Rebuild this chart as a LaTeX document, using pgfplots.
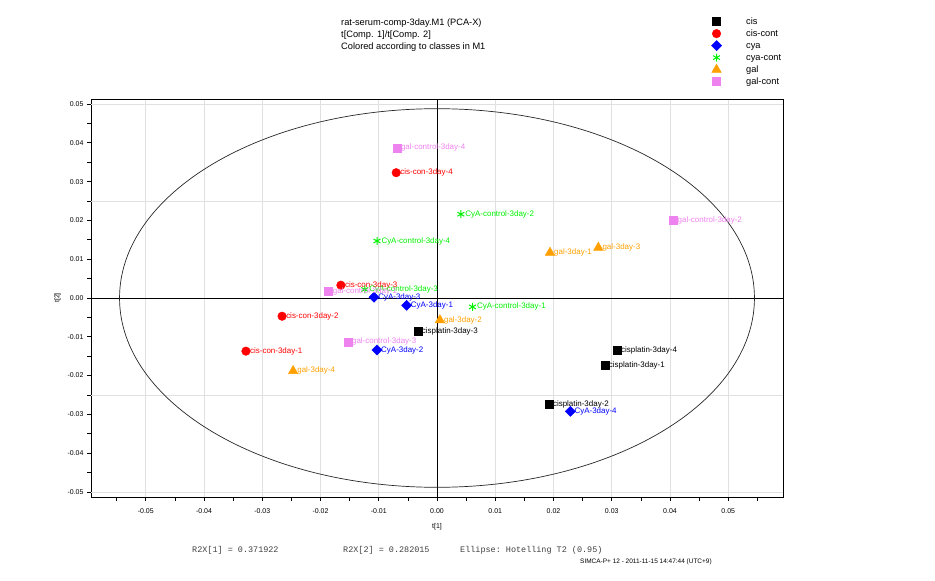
\documentclass[border=0pt]{standalone}
\usepackage{pgfplots}
\pgfplotsset{compat=1.18}
\usepackage{pgfplotstable}
\usepackage{fontspec}
\setmainfont{Liberation Sans}
\setmonofont{Liberation Mono}
\definecolor{cisc}{RGB}{0,0,0}
\definecolor{ciscont}{RGB}{255,0,0}
\definecolor{cyac}{RGB}{0,0,255}
\definecolor{cyacont}{RGB}{0,240,0}
\definecolor{galc}{RGB}{255,160,0}
\definecolor{galcont}{RGB}{238,130,238}
\definecolor{gridc}{RGB}{224,224,224}

\pgfplotstableread{
x y label
0.0309 -0.0134 cisplatin-3day-4
0.0288 -0.0173 cisplatin-3day-1
0.0192 -0.0274 cisplatin-3day-2
-0.0033 -0.0085 cisplatin-3day-3
}\cis
\pgfplotstableread{
x y label
-0.0070 0.0323 cis-con-3day-4
-0.0165 0.0033 cis-con-3day-3
-0.0266 -0.0047 cis-con-3day-2
-0.0328 -0.0137 cis-con-3day-1
}\ciscon
\pgfplotstableread{
x y label
-0.0108 0.0002 CyA-3day-3
-0.0052 -0.0019 CyA-3day-1
-0.0103 -0.0134 CyA-3day-2
0.0229 -0.0292 CyA-3day-4
}\cya
\pgfplotstableread{
x y label
0.0041 0.0216 CyA-control-3day-2
0.0061 -0.0023 CyA-control-3day-1
-0.0103 0.0147 CyA-control-3day-4
-0.0124 0.0022 CyA-control-3day-3
}\cyacon
\pgfplotstableread{
x y label
0.0194 0.0117 gal-3day-1
0.0277 0.0130 gal-3day-3
0.0005 -0.0057 gal-3day-2
-0.0247 -0.0188 gal-3day-4
}\gal
\pgfplotstableread{
x y label
-0.0069 0.0387 gal-control-3day-4
0.0406 0.0201 gal-control-3day-2
-0.0153 -0.0113 gal-control-3day-3
-0.0186 0.0018 gal-control-3day-1
}\galcon

\begin{document}
\begin{tikzpicture}
\useasboundingbox (0bp,0bp) rectangle (935bp,-581bp);
\begin{axis}[
  at={(91bp,-497bp)}, anchor=south west,
  width=692bp, height=398bp, scale only axis,
  xmin=-0.0594, xmax=0.0594, ymin=-0.0513, ymax=0.0513,
  axis line style={black, line width=0.8bp},
  scaled ticks=false,
  xtick={-0.05,-0.04,-0.03,-0.02,-0.01,0,0.01,0.02,0.03,0.04,0.05},
  minor xtick={-0.055,-0.045,-0.035,-0.025,-0.015,-0.005,0.005,0.015,0.025,0.035,0.045,0.055},
  ytick={-0.05,-0.04,-0.03,-0.02,-0.01,0,0.01,0.02,0.03,0.04,0.05},
  minor ytick={-0.045,-0.035,-0.025,-0.015,-0.005,0.005,0.015,0.025,0.035,0.045},
  tick align=outside, tick pos=left,
  major tick length=4bp, minor tick length=4bp,
  every tick/.style={black, line width=0.7bp},
  xmajorgrids=true,
  major grid style={gridc, line width=0.7bp},
  extra y ticks={-0.05,-0.025,0.025,0.05},
  extra y tick labels={},
  extra y tick style={grid=major, major tick length=0pt},
  tick label style={font=\fontsize{7}{8}\selectfont},
  xticklabel style={yshift=-4.5bp, /pgf/number format/.cd, fixed, fixed zerofill, precision=2, assume math mode=true},
  yticklabel style={/pgf/number format/.cd, fixed, fixed zerofill, precision=2, assume math mode=true},
  xlabel={t[1]}, ylabel={t[2]},
  label style={font=\fontsize{7}{8}\selectfont},
  xlabel style={yshift=-3bp},
  ylabel style={yshift=-4bp},
  point meta=explicit symbolic,
  nodes near coords,
  every node near coord/.append style={anchor=west, inner sep=0pt, xshift=4bp, font=\fontsize{8}{9}\selectfont},
  legend style={at={(axis description cs:0.892,1.215)}, anchor=north west, draw=none, fill=none,
    font=\fontsize{9.3}{11}\selectfont, legend cell align=left,
    /tikz/every odd column/.append style={column sep=23bp},
    row sep=0pt, nodes={inner sep=1.5bp, text height=7bp, text depth=2bp}},
]
\draw[black, line width=0.8bp] (axis cs:0,-0.0513) -- (axis cs:0,0.0513);
\draw[black, line width=0.8bp] (axis cs:-0.0594,0) -- (axis cs:0.0594,0);
\draw[black!85, line width=0.7bp] (axis cs:0,0) ellipse [x radius=0.0545, y radius=0.0488];

\addplot[only marks, color=cisc, mark=square*, mark size=4bp, mark options={fill=cisc, draw=cisc}, nodes near coords style={text=cisc}] table[x=x, y=y, meta=label] {\cis};
\addlegendentry{cis}
\addplot[only marks, color=ciscont, mark=*, mark size=4.3bp, mark options={fill=ciscont, draw=ciscont}, nodes near coords style={text=ciscont}] table[x=x, y=y, meta=label] {\ciscon};
\addlegendentry{cis-cont}
\addplot[only marks, color=cyac, mark=square*, mark size=3.6bp, mark options={fill=cyac, draw=cyac, rotate=45}, nodes near coords style={text=cyac}] table[x=x, y=y, meta=label] {\cya};
\addlegendentry{cya}
\addplot[only marks, color=cyacont, mark=asterisk, mark size=4bp, mark options={draw=cyacont, line width=1bp}, nodes near coords style={text=cyacont}] table[x=x, y=y, meta=label] {\cyacon};
\addlegendentry{cya-cont}
\addplot[only marks, color=galc, mark=triangle*, mark size=5.5bp, mark options={fill=galc, draw=galc}, nodes near coords style={text=galc}] table[x=x, y=y, meta=label] {\gal};
\addlegendentry{gal}
\addplot[only marks, color=galcont, mark=square*, mark size=4bp, mark options={fill=galcont, draw=galcont}, nodes near coords style={text=galcont}] table[x=x, y=y, meta=label] {\galcon};
\addlegendentry{gal-cont}
\end{axis}
\node[anchor=base west, inner sep=0pt, font=\fontsize{9.3}{11}\selectfont] at (341bp,-25bp) {rat-serum-comp-3day.M1 (PCA-X)};
\node[anchor=base west, inner sep=0pt, font=\fontsize{9.3}{11}\selectfont] at (341bp,-37bp) {t[Comp. 1]/t[Comp. 2]};
\node[anchor=base west, inner sep=0pt, font=\fontsize{9.3}{11}\selectfont] at (341bp,-49bp) {Colored according to classes in M1};
\node[anchor=base west, inner sep=0pt, font=\ttfamily\fontsize{8.5}{10}\selectfont, text=black!75] at (192bp,-552bp) {R2X[1] = 0.371922};
\node[anchor=base west, inner sep=0pt, font=\ttfamily\fontsize{8.5}{10}\selectfont, text=black!75] at (343bp,-552bp) {R2X[2] = 0.282015};
\node[anchor=base west, inner sep=0pt, font=\ttfamily\fontsize{8.5}{10}\selectfont, text=black!75] at (460bp,-552bp) {Ellipse: Hotelling T2 (0.95)};
\node[anchor=base west, inner sep=0pt, font=\fontsize{6.5}{8}\selectfont] at (580bp,-563bp) {SIMCA-P+ 12 - 2011-11-15 14:47:44 (UTC+9)};
\end{tikzpicture}
\end{document}
